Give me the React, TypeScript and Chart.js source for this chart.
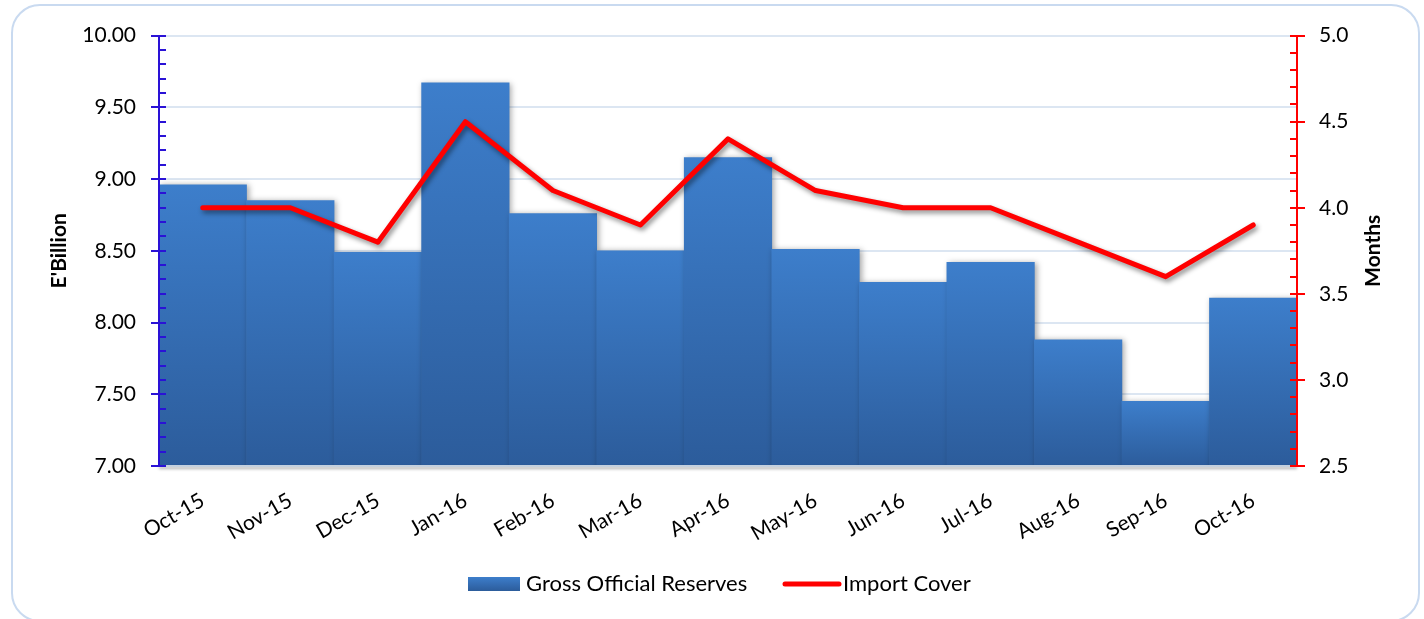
import React, { useEffect, useRef } from "react";
import { Chart, registerables } from "chart.js";

Chart.register(...registerables);

const categories = ["Oct-15", "Nov-15", "Dec-15", "Jan-16", "Feb-16", "Mar-16", "Apr-16", "May-16", "Jun-16", "Jul-16", "Aug-16", "Sep-16", "Oct-16"];
const reserves = [8.96, 8.85, 8.49, 9.67, 8.76, 8.5, 9.15, 8.51, 8.28, 8.42, 7.88, 7.45, 8.17];
const importCover = [4.0, 4.0, 3.8, 4.5, 4.1, 3.9, 4.4, 4.1, 4.0, 4.0, 3.8, 3.6, 3.9];
const leftTicks = { min: 7, max: 10, step: 0.5, minor: 0.1 };
const rightTicks = { min: 2.5, max: 5, step: 0.5, minor: 0.1 };
const seriesNames = ["Gross Official Reserves", "Import Cover"];
const axisTitles = ["E'Billion", "Months"];

const FONT = "Lato, 'Open Sans', sans-serif";
const BAR_TOP = "#3d7ecb";
const BAR_BOTTOM = "#2c5c9b";
const RED = "#ff0000";
const LEFT_AXIS = "#2a12d6";

const decor = {
  id: "decor",
  beforeDraw(chart: any) {
    const ctx = chart.ctx;
    ctx.save();
    ctx.fillStyle = "#ffffff";
    ctx.fillRect(0, 0, chart.width, chart.height);
    ctx.strokeStyle = "#c9daf0";
    ctx.lineWidth = 2;
    ctx.beginPath();
    (ctx as any).roundRect(12, 5, 1407, 616, 28);
    ctx.stroke();
    ctx.restore();
  },
  beforeDatasetDraw(chart: any, args: any) {
    const ctx = chart.ctx;
    ctx.save();
    if (args.meta.type === "bar") {
      ctx.shadowColor = "rgba(0,0,0,0.35)";
      ctx.shadowBlur = 6;
      ctx.shadowOffsetX = 2;
      ctx.shadowOffsetY = 1;
    } else {
      ctx.shadowColor = "rgba(0,0,0,0.45)";
      ctx.shadowBlur = 5;
      ctx.shadowOffsetX = 2;
      ctx.shadowOffsetY = 3;
    }
  },
  afterDatasetDraw(chart: any) {
    chart.ctx.restore();
  },
  afterDraw(chart: any) {
    const ctx = chart.ctx;
    const area = chart.chartArea;
    const y = chart.scales.y;
    const y1 = chart.scales.y1;
    ctx.save();
    // x-axis baseline
    ctx.save();
    ctx.shadowColor = "rgba(0,0,0,0.35)";
    ctx.shadowBlur = 3;
    ctx.shadowOffsetY = 2;
    ctx.strokeStyle = "#c4d0de";
    ctx.lineWidth = 2;
    ctx.beginPath();
    ctx.moveTo(area.left, area.bottom);
    ctx.lineTo(area.right, area.bottom);
    ctx.stroke();
    ctx.restore();

    // left axis
    ctx.strokeStyle = LEFT_AXIS;
    ctx.lineWidth = 2;
    ctx.beginPath();
    ctx.moveTo(area.left, area.top);
    ctx.lineTo(area.left, area.bottom);
    const nL = Math.round((leftTicks.max - leftTicks.min) / leftTicks.minor);
    const perMajorL = Math.round(leftTicks.step / leftTicks.minor);
    for (let i = 0; i <= nL; i++) {
      const py = Math.round(y.getPixelForValue(leftTicks.min + i * leftTicks.minor));
      const major = i % perMajorL === 0;
      ctx.moveTo(major ? area.left - 8 : area.left, py);
      ctx.lineTo(area.left + 7, py);
    }
    ctx.stroke();

    // right axis
    ctx.strokeStyle = RED;
    ctx.beginPath();
    ctx.moveTo(area.right, area.top);
    ctx.lineTo(area.right, area.bottom);
    const nR = Math.round((rightTicks.max - rightTicks.min) / rightTicks.minor);
    const perMajorR = Math.round(rightTicks.step / rightTicks.minor);
    for (let i = 0; i <= nR; i++) {
      const py = Math.round(y1.getPixelForValue(rightTicks.min + i * rightTicks.minor));
      const major = i % perMajorR === 0;
      ctx.moveTo(area.right - 7, py);
      ctx.lineTo(major ? area.right + 8 : area.right, py);
    }
    ctx.stroke();

    // axis titles
    ctx.fillStyle = "#000000";
    ctx.font = `bold 21px ${FONT}`;
    ctx.textAlign = "center";
    ctx.textBaseline = "middle";
    const midY = (area.top + area.bottom) / 2;
    ctx.save();
    ctx.translate(59, midY);
    ctx.rotate(-Math.PI / 2);
    ctx.fillText(axisTitles[0], 0, 0);
    ctx.restore();
    ctx.save();
    ctx.translate(1373, midY);
    ctx.rotate(-Math.PI / 2);
    ctx.fillText(axisTitles[1], 0, 0);
    ctx.restore();

    // legend
    const ly = 584;
    const g = ctx.createLinearGradient(0, ly - 7, 0, ly + 7);
    g.addColorStop(0, BAR_TOP);
    g.addColorStop(1, BAR_BOTTOM);
    ctx.fillStyle = g;
    ctx.fillRect(468, ly - 7, 52, 14);
    ctx.fillStyle = "#000000";
    ctx.font = `22px ${FONT}`;
    ctx.textAlign = "left";
    ctx.fillText(seriesNames[0], 526, ly);
    ctx.strokeStyle = RED;
    ctx.lineWidth = 5;
    ctx.lineCap = "round";
    ctx.beginPath();
    ctx.moveTo(785, ly);
    ctx.lineTo(839, ly);
    ctx.stroke();
    ctx.fillText(seriesNames[1], 843, ly);
    ctx.restore();
  },
};

export default function App() {
  const ref = useRef<HTMLCanvasElement | null>(null);
  useEffect(() => {
    if (!ref.current) return;
    const chart = new Chart(ref.current, {
      type: "bar",
      data: {
        labels: categories,
        datasets: [
          {
            type: "line",
            label: seriesNames[1],
            data: importCover,
            yAxisID: "y1",
            borderColor: RED,
            borderWidth: 5,
            pointRadius: 0,
            tension: 0,
            borderJoinStyle: "round",
            borderCapStyle: "round",
            order: 0,
          } as any,
          {
            type: "bar",
            label: seriesNames[0],
            data: reserves,
            yAxisID: "y",
            categoryPercentage: 1,
            barPercentage: 1,
            order: 1,
            backgroundColor: (c: any) => {
              const ch = c.chart;
              const area = ch.chartArea;
              if (!area || c.type !== "data" || !ch.scales.y) return BAR_TOP;
              const top = ch.scales.y.getPixelForValue(c.raw);
              const gr = ch.ctx.createLinearGradient(0, top, 0, area.bottom);
              gr.addColorStop(0, BAR_TOP);
              gr.addColorStop(1, BAR_BOTTOM);
              return gr;
            },
          } as any,
        ],
      },
      options: {
        responsive: false,
        animation: false,
        layout: { padding: { top: 34, left: 0, right: 0, bottom: 0 } },
        plugins: {
          legend: { display: false },
          tooltip: { enabled: false },
        },
        scales: {
          x: {
            offset: true,
            grid: { display: false },
            border: { display: false },
            ticks: {
              minRotation: 30,
              maxRotation: 30,
              padding: 14,
              color: "#000000",
              font: { family: FONT, size: 21 },
            },
            afterFit: (s: any) => {
              s.height = 153;
            },
          },
          y: {
            position: "left",
            min: leftTicks.min,
            max: leftTicks.max,
            ticks: {
              stepSize: leftTicks.step,
              padding: 23,
              color: "#000000",
              font: { family: FONT, size: 21 },
              callback: (v: any) => Number(v).toFixed(2),
            },
            grid: { color: "#dce6f2", lineWidth: 2, drawTicks: false },
            border: { display: false },
            afterFit: (s: any) => {
              s.width = 159;
            },
          },
          y1: {
            position: "right",
            min: rightTicks.min,
            max: rightTicks.max,
            ticks: {
              stepSize: rightTicks.step,
              padding: 22,
              color: "#000000",
              font: { family: FONT, size: 21 },
              callback: (v: any) => Number(v).toFixed(1),
            },
            grid: { display: false, drawTicks: false },
            border: { display: false },
            afterFit: (s: any) => {
              s.width = 127;
            },
          },
        },
      },
      plugins: [decor],
    });
    return () => chart.destroy();
  }, []);
  return (
    <div style={{ position: "fixed", left: 0, top: 0, width: 1424, height: 619 }}>
      <canvas ref={ref} width={1424} height={619} style={{ width: 1424, height: 619, display: "block" }} />
    </div>
  );
}
